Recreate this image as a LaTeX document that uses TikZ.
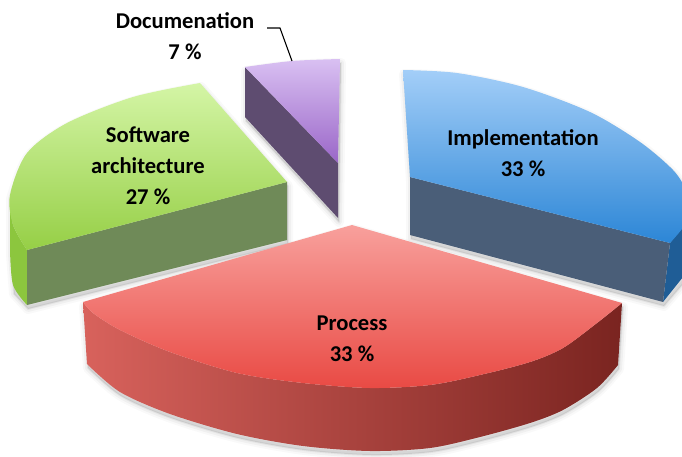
\documentclass[tikz,border=0pt]{standalone}
\usepackage{fontspec}
\setmainfont{Carlito}
\definecolor{redTopA}{HTML}{F8A09C}
\definecolor{redTopB}{HTML}{E94A44}
\definecolor{redSideL}{HTML}{D8625C}
\definecolor{redSideM}{HTML}{A02E29}
\definecolor{redSideR}{HTML}{7A2420}
\definecolor{bluTopA}{HTML}{A3CEF8}
\definecolor{bluTopB}{HTML}{2C86D6}
\definecolor{bluSide}{HTML}{4A5E78}
\definecolor{bluOuter}{HTML}{1F5D96}
\definecolor{grnTopA}{HTML}{D4F5A6}
\definecolor{grnTopB}{HTML}{96CF46}
\definecolor{grnSide}{HTML}{6F8A58}
\definecolor{grnOuter}{HTML}{8CC63E}
\definecolor{purTopA}{HTML}{D9C0F2}
\definecolor{purTopB}{HTML}{9A66C8}
\definecolor{purSide}{HTML}{5E4C70}
\begin{document}
\begin{tikzpicture}[x=1pt,y=-1pt,
  lbl/.style={font=\fontsize{22.6}{31}\selectfont\bfseries, align=center, inner sep=0pt, text=black},
  shadowpath/.style={fill=black, draw=black, line join=round, shift={(1,4)}},
  leader/.style={draw=black, line width=1.1pt}]
\useasboundingbox (0,0) rectangle (682,457);
\clip (0,0) rectangle (682,457);

% ---------- soft shadows ----------
\foreach \lw/\op in {10/0.025, 6/0.035, 2/0.05}{
  % purple
  \path[shadowpath, line width=\lw pt, opacity=\op]
    (245,67) -- plot[smooth] coordinates {(245,67) (292,61) (340,59)} -- (338,218) -- (245,117) -- cycle;
  % green
  \path[shadowpath, line width=\lw pt, opacity=\op]
    (287,182) -- plot[smooth] coordinates {(200,83) (133,97) (67,123) (27,153) (10,195)} -- (10,250) -- (13,290) -- (27,305) -- (287,240) -- cycle;
  % blue
  \path[shadowpath, line width=\lw pt, opacity=\op]
    (410,177) -- plot[smooth] coordinates {(403,70) (457,73) (523,87) (590,112) (640,142) (673,170) (686,190) (692,210)} -- (695,265) -- (663,302) -- (410,235) -- cycle;
  % red
  \path[shadowpath, line width=\lw pt, opacity=\op]
    (352,225) -- (83,302) -- plot[smooth] coordinates {(87,364) (120,392) (170,414) (237,434) (303,446) (370,451) (430,448) (480,437) (530,423) (563,410) (597,388) (618,365)} -- (622,303) -- cycle;
}

% ---------- Documentation (purple) ----------
\fill[purSide] (245,67) -- (338,163) -- (338,218) -- (245,117) -- cycle;
\shade[top color=purTopA, bottom color=purTopB]
  (245,67) -- plot[smooth] coordinates {(245,67) (292,61) (340,59)} -- (338,163) -- cycle;

% ---------- Software architecture (green) ----------
\fill[grnOuter] (10,195) -- plot[smooth] coordinates {(10,195) (13,225) (27,250)} -- (27,305)
  -- plot[smooth] coordinates {(27,305) (13,285) (10,250)} -- cycle;
\fill[grnSide] (287,182) -- (27,250) -- (27,305) -- (287,240) -- cycle;
\shade[top color=grnTopA, bottom color=grnTopB]
  (287,182) -- plot[smooth] coordinates {(200,83) (133,97) (67,123) (27,153) (10,195) (13,225) (27,250)} -- cycle;

% ---------- Implementation (blue) ----------
\fill[bluOuter] (670,243) -- (684,225) -- (695,205) -- (695,262) -- (663,302) -- cycle;
\fill[bluSide] (410,177) -- (670,243) -- (663,302) -- (410,235) -- cycle;
\shade[top color=bluTopA, bottom color=bluTopB]
  (410,177) -- plot[smooth] coordinates {(403,70) (457,73) (523,87) (590,112) (640,142) (673,170) (686,190) (690,208) (684,226) (670,243)} -- cycle;

% ---------- Process (red) ----------
\shade[left color=redSideL, middle color=redSideM, right color=redSideR]
  (83,302) -- plot[smooth] coordinates {(83,302) (93,313) (120,330) (170,352) (237,373) (303,383) (370,388) (430,385) (480,375) (530,362) (563,348) (597,323) (622,303)}
  -- (618,365) -- plot[smooth] coordinates {(618,365) (597,388) (563,410) (530,423) (480,437) (430,448) (370,451) (303,446) (237,434) (170,414) (120,392) (87,364)} -- cycle;
\shade[top color=redTopA, bottom color=redTopB]
  (352,225) -- plot[smooth] coordinates {(83,302) (93,313) (120,330) (170,352) (237,373) (303,383) (370,388) (430,385) (480,375) (530,362) (563,348) (597,323) (622,303)} -- cycle;

% ---------- labels ----------
\node[lbl] (doc) at (185,36) {Documenation\\7 \%};
\node[lbl] (soft) at (148,166) {Software\\architecture\\27 \%};
\node[lbl] (impl) at (523,153) {Implementation\\33 \%};
\node[lbl] (proc) at (352,339) {Process\\33 \%};

\coordinate (leadA) at (267,28);
\coordinate (leadB) at (280,28);
\coordinate (leadC) at (292,61);
\draw[leader] (leadA) -- (leadB) -- (leadC);
\end{tikzpicture}
\end{document}
